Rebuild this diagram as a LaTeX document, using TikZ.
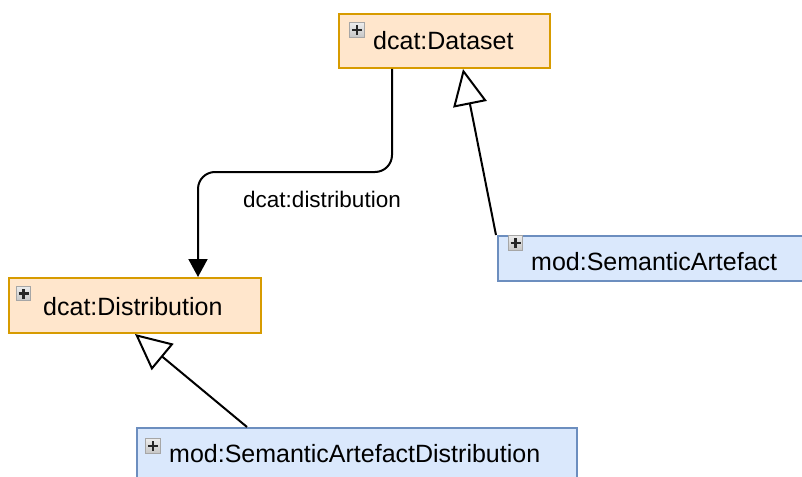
\documentclass[tikz,border=0pt]{standalone}
\usepackage{fontspec}
\setmainfont{Liberation Sans}
\usetikzlibrary{arrows.meta,calc}
\definecolor{orfill}{HTML}{FFE6CC}
\definecolor{orline}{HTML}{D79B00}
\definecolor{blfill}{HTML}{DAE8FC}
\definecolor{blline}{HTML}{6C8EBF}
\tikzset{
  box/.style={rectangle,anchor=north west,inner sep=0pt,line width=2pt},
  orbox/.style={box,fill=orfill,draw=orline},
  blbox/.style={box,fill=blfill,draw=blline},
  name text/.style={anchor=base west,inner sep=0pt,font=\fontsize{25}{30}\selectfont},
  edge label/.style={inner sep=0pt,font=\fontsize{22.5}{27}\selectfont},
  icon/.style={rectangle,minimum size=14.5pt,inner sep=0pt,draw=gray!70,line width=1pt,
    top color=gray!15,bottom color=gray!45,
    path picture={\draw[line width=2.6pt,black!85]
      ($(path picture bounding box.center)+(-5pt,0)$) -- ($(path picture bounding box.center)+(5pt,0)$)
      ($(path picture bounding box.center)+(0,-5pt)$) -- ($(path picture bounding box.center)+(0,5pt)$);}},
  conn/.style={line width=2pt,black},
  gen/.style={conn,-{Triangle[open,fill=white,length=36pt,width=34pt]}},
}
\begin{document}
\begin{tikzpicture}[x=1pt,y=-1pt]
\useasboundingbox (0,0) rectangle (802,476);
% boxes
\node[orbox,minimum width=211pt,minimum height=54pt] (ds) at (338,13) {};
\node[orbox,minimum width=252pt,minimum height=55pt] (dist) at (8,277) {};
\node[blbox,minimum width=310pt,minimum height=45pt] (sa) at (497,235) {};
\node[blbox,minimum width=440pt,minimum height=70pt] (sad) at (136,427) {};
% icons
\node[icon] (dsI) at (357,30) {};
\node[icon] (distI) at (23.5,293.5) {};
\node[icon] (saI) at (515.5,243) {};
\node[icon] (sadI) at (153,446) {};
% texts
\node[name text] (dsT) at (373,50) {dcat:Dataset};
\node[name text] (distT) at (43,315) {dcat:Distribution};
\node[name text] (saT) at (531,270) {mod:SemanticArtefact};
\node[name text] (sadT) at (169,462) {mod:SemanticArtefactDistribution};
% connectors
\draw[conn,rounded corners=17pt,-{Triangle[length=18pt,width=19pt]}]
  ($(ds.south west)+(54,0)$) |- ($(dist.north west)+(190,-105)$) -- ($(dist.north west)+(190,0)$);
\node[edge label] (lbl) at (322,199) {dcat:distribution};
\draw[gen] ($(sa.north west)+(-1,0)$) -- ($(ds.south west)+(125,0)$);
\draw[gen] ($(sad.north west)+(111,0)$) -- ($(dist.south west)+(127,0)$);
\end{tikzpicture}
\end{document}
